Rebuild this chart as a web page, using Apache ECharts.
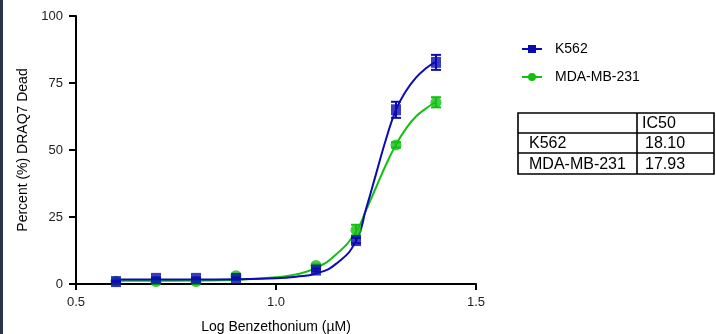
<!DOCTYPE html>
<html>
<head>
<meta charset="utf-8">
<script src="https://cdn.jsdelivr.net/npm/echarts@6/dist/echarts.min.js"></script>
<style>
html,body{margin:0;padding:0;background:#fff;}
#chart{width:716px;height:334px;}
</style>
</head>
<body>
<div id="chart"></div>
<script>
// ---- data ----
const doseLog = [0.6, 0.7, 0.8, 0.9, 1.1, 1.2, 1.3, 1.4];
const k562Mean = [0.9, 2.1, 2.1, 2.1, 5.2, 16.2, 65.0, 82.7];
const k562Err  = [0.3, 0.3, 0.3, 0.3, 0.5, 1.0, 3.0, 2.8];
const mdaMean  = [1.0, 0.9, 0.9, 3.1, 6.9, 20.1, 51.9, 67.8];
const mdaErr   = [0.3, 0.3, 0.3, 0.5, 0.5, 2.0, 1.0, 1.9];

// fitted curves
const curveX    = [0.6, 0.7, 0.8, 0.9, 1.0, 1.05, 1.1, 1.15, 1.2, 1.225, 1.25, 1.275, 1.3, 1.325, 1.35, 1.375, 1.4];
const k562Curve = [1.7, 1.7, 1.7, 1.8, 2.1, 2.7, 3.9, 7.5, 16, 28, 41, 54, 65, 72, 77, 80.5, 83];
const mdaCurve  = [1.2, 1.2, 1.3, 1.6, 2.5, 3.6, 6, 11, 19.5, 27.5, 36, 44.5, 52, 58, 62.5, 65.5, 68];

const xTicks = [0.5, 1.0, 1.5];
const yTicks = [0, 25, 50, 75, 100];

const seriesNames = ['K562', 'MDA-MB-231'];
const tableHeader = ['', 'IC50'];
const ic50Values = ['18.10', '17.93'];

const BLUE = '#0b0bb2';
const GREEN = '#12c012';

function pairs(xs, ys) { return xs.map((x, i) => [x, ys[i]]); }
function triples(xs, ys, es) { return xs.map((x, i) => [x, ys[i], es[i]]); }

function errRender(color) {
  return function (params, api) {
    const x = api.value(0), y = api.value(1), e = api.value(2);
    const top = api.coord([x, y + e]);
    const bot = api.coord([x, y - e]);
    const hw = 5;
    const st = { stroke: color, lineWidth: 2 };
    return {
      type: 'group',
      children: [
        { type: 'line', shape: { x1: top[0], y1: top[1], x2: bot[0], y2: bot[1] }, style: st },
        { type: 'line', shape: { x1: top[0] - hw, y1: top[1], x2: top[0] + hw, y2: top[1] }, style: st },
        { type: 'line', shape: { x1: bot[0] - hw, y1: bot[1], x2: bot[0] + hw, y2: bot[1] }, style: st }
      ]
    };
  };
}

const chart = echarts.init(document.getElementById('chart'));

const FONT = 'Liberation Sans, Arial, sans-serif';

// table graphic
const tLeft = 518, tRight = 714, tTop = 113, rowH = [20, 20, 21], colX = 637;
const tableChildren = [];
let yCur = tTop;
const rowsY = [tTop];
rowH.forEach(h => { yCur += h; rowsY.push(yCur); });
tableChildren.push({ type: 'rect', shape: { x: tLeft, y: tTop, width: tRight - tLeft, height: yCur - tTop }, style: { fill: 'none', stroke: '#000', lineWidth: 1.6 } });
for (let i = 1; i < rowsY.length - 1; i++) {
  tableChildren.push({ type: 'line', shape: { x1: tLeft, y1: rowsY[i], x2: tRight, y2: rowsY[i] }, style: { stroke: '#000', lineWidth: 1.6 } });
}
tableChildren.push({ type: 'line', shape: { x1: colX, y1: tTop, x2: colX, y2: yCur }, style: { stroke: '#000', lineWidth: 1.6 } });
const rowsText = [[tableHeader[0], tableHeader[1]]].concat(seriesNames.map((n, i) => [n, ic50Values[i]]));
rowsText.forEach((r, i) => {
  const cy = (rowsY[i] + rowsY[i + 1]) / 2 + 1;
  if (r[0]) tableChildren.push({ type: 'text', x: 529, y: cy, style: { text: r[0], font: '16px ' + FONT, fill: '#000', verticalAlign: 'middle', align: 'left' } });
  tableChildren.push({ type: 'text', x: i === 0 ? 642 : 645, y: cy, style: { text: r[1], font: '16px ' + FONT, fill: '#000', verticalAlign: 'middle', align: 'left' } });
});

const option = {
  animation: false,
  backgroundColor: '#fff',
  grid: { left: 76, right: 240, top: 16, bottom: 50, containLabel: false, outerBoundsMode: 'none' },
  legend: {
    orient: 'vertical',
    left: 516,
    top: 37,
    itemWidth: 20,
    itemHeight: 10,
    itemGap: 14,
    data: seriesNames,
    textStyle: { fontFamily: FONT, fontSize: 14, color: '#000', padding: [0, 0, 0, 8] }
  },
  xAxis: {
    type: 'value',
    min: 0.5, max: 1.5, interval: 0.5,
    name: 'Log Benzethonium (µM)',
    nameLocation: 'middle',
    nameGap: 36,
    nameTextStyle: { fontFamily: FONT, fontSize: 14, color: '#000' },
    axisLine: { show: true, onZero: false, lineStyle: { color: '#000', width: 2 } },
    axisTick: { show: true, length: 6, lineStyle: { color: '#000', width: 2 } },
    axisLabel: { margin: 12, fontFamily: FONT, fontSize: 13, color: '#222', formatter: v => v.toFixed(1) },
    splitLine: { show: false }
  },
  yAxis: {
    type: 'value',
    min: 0, max: 100, interval: 25,
    name: 'Percent (%) DRAQ7 Dead',
    nameLocation: 'middle',
    nameGap: 42,
    nameTextStyle: { fontFamily: FONT, fontSize: 14, color: '#000' },
    axisLine: { show: true, lineStyle: { color: '#000', width: 2 } },
    axisTick: { show: true, length: 7, lineStyle: { color: '#000', width: 2 } },
    axisLabel: { margin: 13, fontFamily: FONT, fontSize: 13, color: '#222' },
    splitLine: { show: false }
  },
  graphic: [
    { type: 'rect', left: 0, top: 0, shape: { x: 0, y: 0, width: 3, height: 334 }, style: { fill: '#2c3447' } },
    { type: 'group', children: tableChildren }
  ],
  series: [
    {
      name: 'MDA-MB-231', type: 'line', data: pairs(curveX, mdaCurve),
      smooth: 0.5, showSymbol: false, symbol: 'circle', symbolSize: 10,
      lineStyle: { color: GREEN, width: 2 }, itemStyle: { color: GREEN }, z: 2
    },
    {
      name: 'K562', type: 'line', data: pairs(curveX, k562Curve),
      smooth: 0.5, showSymbol: false, symbol: 'rect', symbolSize: 10,
      lineStyle: { color: BLUE, width: 2 }, itemStyle: { color: BLUE }, z: 3
    },
    {
      name: 'MDA-MB-231', type: 'custom', data: triples(doseLog, mdaMean, mdaErr),
      renderItem: errRender(GREEN), z: 4
    },
    {
      name: 'MDA-MB-231', type: 'scatter', data: pairs(doseLog, mdaMean),
      symbol: 'circle', symbolSize: 11, itemStyle: { color: GREEN }, z: 5
    },
    {
      name: 'K562', type: 'custom', data: triples(doseLog, k562Mean, k562Err),
      renderItem: errRender(BLUE), z: 6
    },
    {
      name: 'K562', type: 'scatter', data: pairs(doseLog, k562Mean),
      symbol: 'rect', symbolSize: [10, 11], itemStyle: { color: BLUE }, z: 7
    }
  ]
};
chart.setOption(option);
</script>
</body>
</html>
